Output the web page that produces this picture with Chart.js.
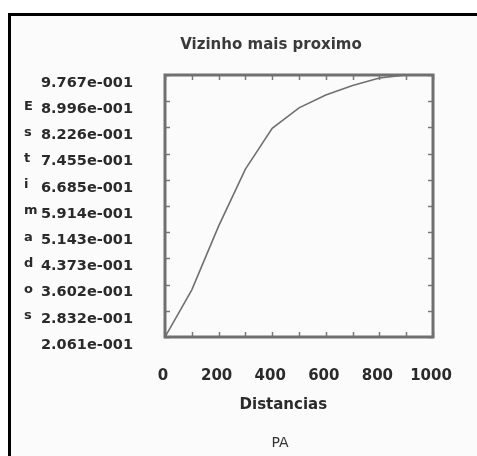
<!DOCTYPE html>
<html><head><meta charset="utf-8">
<script src="https://cdn.jsdelivr.net/npm/chart.js@4/dist/chart.umd.min.js"></script>
<style>html,body{margin:0;padding:0;background:#fff;}#wrap{width:477px;height:456px;position:relative}</style>
</head><body><div id="wrap"><canvas id="c" width="477" height="456"></canvas></div>
<script>
const distances = [0, 100, 200, 300, 400, 500, 600, 700, 800, 900, 1000];
const estimates = [0.2061, 0.345, 0.532, 0.700, 0.820, 0.880, 0.918, 0.946, 0.968, 0.9767, 0.9767];
const yTickValues = [0.2061, 0.2832, 0.3602, 0.4373, 0.5143, 0.5914, 0.6685, 0.7455, 0.8226, 0.8996, 0.9767];
const yTickLabels = ['2.061e-001', '2.832e-001', '3.602e-001', '4.373e-001', '5.143e-001', '5.914e-001', '6.685e-001', '7.455e-001', '8.226e-001', '8.996e-001', '9.767e-001'];
const xTickValues = [0, 200, 400, 600, 800, 1000];
const xMinorTicks = [0, 100, 200, 300, 400, 500, 600, 700, 800, 900, 1000];
const yAxisLetters = ['E', 's', 't', 'i', 'm', 'a', 'd', 'o', 's'];
const chartTitle = 'Vizinho mais proximo';
const xAxisTitle = 'Distancias';
const subTitle = 'PA';

const FONT = "'DejaVu Sans', sans-serif";
const TXT = '#2a2a2a';

const decor = {
  id: 'decor',
  afterLayout(chart) {
    const a = chart.chartArea;
    if (chart.titleBlock) chart.titleBlock.left = 2 * 271 - a.right;
    chart.boxes.forEach(b => {
      if (b.options && b.options.text === subTitle && b !== chart.titleBlock) b.left = 2 * 280 - a.right;
    });
  },
  beforeDraw(chart) {
    const ctx = chart.ctx;
    ctx.save();
    ctx.fillStyle = '#ffffff';
    ctx.fillRect(0, 0, chart.width, chart.height);
    ctx.fillStyle = '#fbfbfb';
    ctx.fillRect(8, 13, chart.width - 8, chart.height - 13);
    ctx.fillStyle = '#000000';
    ctx.fillRect(8, 13, chart.width - 8, 3);
    ctx.fillRect(8, 13, 3, chart.height - 13);
    ctx.restore();
  },
  afterDatasetsDraw(chart) {
    const ctx = chart.ctx;
    const a = chart.chartArea;
    const xs = chart.scales.x, ys = chart.scales.y;
    ctx.save();
    ctx.strokeStyle = '#7a7a7a';
    ctx.lineWidth = 1.5;
    ctx.beginPath();
    xMinorTicks.forEach(v => {
      const px = Math.round(xs.getPixelForValue(v)) + 0.5;
      ctx.moveTo(px, a.bottom); ctx.lineTo(px, a.bottom - 5);
      ctx.moveTo(px, a.top); ctx.lineTo(px, a.top + 5);
    });
    yTickValues.forEach(v => {
      const py = Math.round(ys.getPixelForValue(v)) + 0.5;
      ctx.moveTo(a.left, py); ctx.lineTo(a.left + 5, py);
      ctx.moveTo(a.right, py); ctx.lineTo(a.right - 5, py);
    });
    ctx.stroke();
    ctx.lineWidth = 3;
    ctx.strokeStyle = '#707070';
    ctx.strokeRect(a.left, a.top, a.right - a.left, a.bottom - a.top);
    // stacked y-axis title letters
    ctx.fillStyle = TXT;
    ctx.font = "bold 13px " + FONT;
    ctx.textAlign = 'left';
    ctx.textBaseline = 'middle';
    yAxisLetters.forEach((ch, i) => {
      const v = yTickValues[yTickValues.length - 2 - i];
      ctx.fillText(ch, 24, ys.getPixelForValue(v) + 5);
    });
    ctx.restore();
  }
};

new Chart(document.getElementById('c'), {
  type: 'line',
  data: {
    datasets: [{
      data: distances.map((d, i) => ({ x: d, y: estimates[i] })),
      borderColor: '#707070',
      borderWidth: 1.6,
      pointRadius: 0,
      tension: 0,
      fill: false
    }]
  },
  options: {
    responsive: false,
    animation: false,
    layout: { padding: { left: 30, right: 44, top: 0, bottom: 0 } },
    plugins: {
      legend: { display: false },
      tooltip: { enabled: false },
      title: {
        display: true, text: chartTitle, color: '#3a3a3a',
        font: { family: FONT, size: 15, weight: 'bold' },
        padding: { top: 36, bottom: 21 }
      },
      subtitle: {
        display: true, text: subTitle, position: 'bottom', color: '#333',
        font: { family: FONT, size: 14, weight: 'normal' },
        padding: { top: 20.6, bottom: 4.6 }
      }
    },
    scales: {
      x: {
        type: 'linear', min: 0, max: 1000,
        afterBuildTicks: s => { s.ticks = xTickValues.map(v => ({ value: v })); },
        ticks: { color: TXT, font: { family: FONT, size: 15, weight: 'bold' }, padding: 11, labelOffset: -2, maxRotation: 0, autoSkip: false, callback: v => String(v) },
        grid: { display: false, drawTicks: true, tickLength: 19 },
        border: { display: false },
        title: { display: true, text: xAxisTitle + '      ', color: TXT, font: { family: FONT, size: 15, weight: 'bold' }, padding: { top: 0, bottom: 0 } }
      },
      y: {
        type: 'linear', min: 0.2061, max: 0.9767,
        afterBuildTicks: s => { s.ticks = yTickValues.map(v => ({ value: v })); },
        afterFit: s => { s.width = 135; },
        ticks: { color: TXT, font: { family: FONT, size: 14.5, weight: 'bold' }, padding: 32, labelOffset: 8, autoSkip: false, callback: (v, i) => yTickLabels[i] },
        grid: { display: false, drawTicks: false, tickLength: 0 },
        border: { display: false }
      }
    }
  },
  plugins: [decor]
});
</script></body></html>
